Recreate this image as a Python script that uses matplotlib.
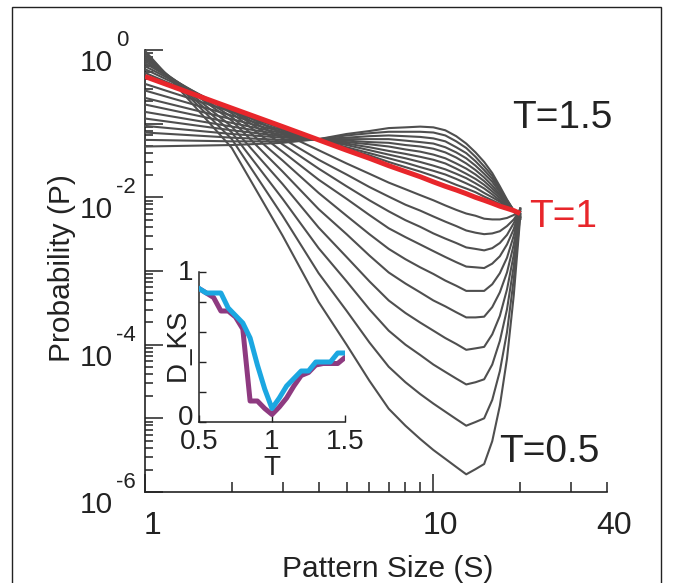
import numpy as np
import matplotlib
matplotlib.use('Agg')
import matplotlib.pyplot as plt
from matplotlib.ticker import FixedLocator, FixedFormatter, NullFormatter
from matplotlib.transforms import ScaledTranslation, blended_transform_factory
from matplotlib.patches import Rectangle

plt.rcParams['font.family'] = ['Liberation Sans', 'DejaVu Sans']

# ---------------- data ----------------
pattern_size = list(range(1, 21))
temperatures = [0.5, 0.55, 0.6, 0.65, 0.7, 0.75, 0.8, 0.85, 0.9, 0.95, 1.0,
                1.05, 1.1, 1.15, 1.2, 1.25, 1.3, 1.35, 1.4, 1.45, 1.5]

# log10 P(S) for each temperature
logp_050 = [-0.01, -1.33, -2.52, -3.42, -4.00, -4.49, -4.87, -5.10, -5.28, -5.43, -5.55, -5.66, -5.76, -5.69, -5.62, -5.31, -4.83, -4.19, -3.33, -2.27]
logp_055 = [-0.04, -1.21, -2.25, -3.03, -3.54, -3.97, -4.30, -4.51, -4.67, -4.80, -4.91, -5.01, -5.10, -5.05, -5.00, -4.75, -4.36, -3.83, -3.11, -2.23]
logp_060 = [-0.07, -1.12, -2.02, -2.69, -3.14, -3.52, -3.81, -4.00, -4.14, -4.27, -4.37, -4.46, -4.54, -4.51, -4.47, -4.27, -3.95, -3.52, -2.93, -2.20]
logp_065 = [-0.10, -1.04, -1.82, -2.41, -2.81, -3.14, -3.40, -3.57, -3.70, -3.81, -3.91, -3.99, -4.07, -4.05, -4.03, -3.86, -3.61, -3.25, -2.78, -2.18]
logp_070 = [-0.12, -0.96, -1.65, -2.16, -2.50, -2.79, -3.02, -3.17, -3.29, -3.40, -3.48, -3.56, -3.63, -3.63, -3.62, -3.49, -3.29, -3.02, -2.64, -2.16]
logp_075 = [-0.15, -0.91, -1.50, -1.94, -2.25, -2.50, -2.70, -2.84, -2.95, -3.04, -3.13, -3.20, -3.27, -3.27, -3.27, -3.18, -3.03, -2.82, -2.52, -2.15]
logp_080 = [-0.18, -0.86, -1.38, -1.76, -2.02, -2.24, -2.42, -2.54, -2.64, -2.73, -2.81, -2.88, -2.94, -2.95, -2.96, -2.90, -2.80, -2.64, -2.43, -2.15]
logp_085 = [-0.22, -0.83, -1.28, -1.61, -1.85, -2.04, -2.19, -2.31, -2.40, -2.49, -2.56, -2.62, -2.68, -2.70, -2.72, -2.69, -2.62, -2.51, -2.35, -2.16]
logp_090 = [-0.26, -0.82, -1.20, -1.49, -1.69, -1.86, -1.99, -2.10, -2.18, -2.26, -2.33, -2.39, -2.45, -2.48, -2.50, -2.49, -2.46, -2.39, -2.30, -2.17]
logp_095 = [-0.31, -0.81, -1.13, -1.36, -1.54, -1.68, -1.80, -1.89, -1.97, -2.04, -2.11, -2.17, -2.22, -2.25, -2.29, -2.30, -2.30, -2.28, -2.24, -2.19]
logp_100 = [-0.36, -0.79, -1.04, -1.22, -1.36, -1.47, -1.57, -1.65, -1.72, -1.79, -1.85, -1.90, -1.95, -2.00, -2.04, -2.08, -2.12, -2.15, -2.18, -2.22]
logp_105 = [-0.46, -0.84, -1.07, -1.22, -1.34, -1.43, -1.52, -1.59, -1.65, -1.71, -1.77, -1.83, -1.88, -1.93, -1.99, -2.04, -2.09, -2.14, -2.18, -2.22]
logp_110 = [-0.55, -0.89, -1.09, -1.22, -1.32, -1.40, -1.47, -1.53, -1.59, -1.64, -1.69, -1.75, -1.81, -1.87, -1.94, -2.00, -2.06, -2.13, -2.18, -2.23]
logp_115 = [-0.65, -0.94, -1.11, -1.22, -1.29, -1.36, -1.42, -1.47, -1.52, -1.57, -1.62, -1.68, -1.74, -1.81, -1.88, -1.96, -2.04, -2.11, -2.18, -2.24]
logp_120 = [-0.74, -0.99, -1.13, -1.22, -1.27, -1.32, -1.37, -1.41, -1.45, -1.49, -1.54, -1.61, -1.68, -1.75, -1.83, -1.92, -2.01, -2.10, -2.18, -2.25]
logp_125 = [-0.84, -1.04, -1.15, -1.22, -1.25, -1.28, -1.31, -1.35, -1.38, -1.42, -1.47, -1.54, -1.61, -1.69, -1.78, -1.88, -1.98, -2.09, -2.18, -2.26]
logp_130 = [-0.93, -1.09, -1.17, -1.22, -1.23, -1.25, -1.26, -1.29, -1.31, -1.34, -1.39, -1.46, -1.54, -1.63, -1.73, -1.84, -1.96, -2.08, -2.18, -2.27]
logp_135 = [-1.03, -1.14, -1.19, -1.21, -1.21, -1.21, -1.21, -1.23, -1.25, -1.27, -1.32, -1.39, -1.47, -1.57, -1.68, -1.79, -1.93, -2.06, -2.18, -2.27]
logp_140 = [-1.12, -1.19, -1.22, -1.21, -1.19, -1.17, -1.16, -1.17, -1.18, -1.20, -1.24, -1.32, -1.40, -1.51, -1.63, -1.75, -1.90, -2.05, -2.18, -2.28]
logp_145 = [-1.22, -1.24, -1.24, -1.21, -1.16, -1.13, -1.11, -1.11, -1.11, -1.12, -1.16, -1.24, -1.33, -1.45, -1.58, -1.71, -1.88, -2.04, -2.18, -2.29]
logp_150 = [-1.31, -1.29, -1.26, -1.21, -1.14, -1.10, -1.06, -1.05, -1.04, -1.05, -1.09, -1.17, -1.27, -1.39, -1.52, -1.67, -1.85, -2.03, -2.18, -2.30]

all_curves = [logp_050, logp_055, logp_060, logp_065, logp_070, logp_075, logp_080,
              logp_085, logp_090, logp_095, logp_100, logp_105, logp_110, logp_115,
              logp_120, logp_125, logp_130, logp_135, logp_140, logp_145, logp_150]

# inset: KS distance vs temperature
inset_T = [0.5, 0.55, 0.6, 0.65, 0.7, 0.75, 0.8, 0.85, 0.9, 0.95, 1.0,
           1.05, 1.1, 1.15, 1.2, 1.25, 1.3, 1.35, 1.4, 1.45, 1.5]
dks_purple = [0.89, 0.86, 0.83, 0.74, 0.74, 0.70, 0.62, 0.14, 0.14, 0.09, 0.05,
              0.10, 0.16, 0.24, 0.31, 0.33, 0.38, 0.39, 0.39, 0.39, 0.43]
dks_cyan = [0.89, 0.86, 0.86, 0.86, 0.76, 0.71, 0.66, 0.56, 0.38, 0.22, 0.09,
            0.16, 0.24, 0.29, 0.34, 0.34, 0.40, 0.40, 0.40, 0.46, 0.46]

x_major_ticks = [1, 10]
x_major_labels = ['1', '10']
x_minor_ticks = [2, 3, 4, 5, 6, 7, 8, 9, 20, 30, 40]
x_minor_labels = ['', '', '', '', '', '', '', '', '', '', '40']
y_major_ticks = [1e-6, 1e-5, 1e-4, 1e-3, 1e-2, 1e-1, 1e0]
y_label_values = [1e0, 1e-2, 1e-4, 1e-6]
y_label_exponents = ['0', '-2', '-4', '-6']

# ---------------- figure ----------------
W, H = 673, 583
fig = plt.figure(figsize=(W / 100, H / 100), dpi=100)
fig.patch.set_facecolor('white')
ink = '#222222'

# thin frame around the figure
fig.patches.append(Rectangle((12 / W, -0.02), (661 - 12) / W, (583 - 7) / H + 0.02,
                             transform=fig.transFigure, fill=False, lw=1.0,
                             ec=ink, zorder=10))

ax = fig.add_axes([145 / W, 1 - 492 / H, (607 - 145) / W, (492 - 50) / H])
gray = '#4f4f4f'
red = '#e8262b'
for T, lp in zip(temperatures, all_curves):
    P = 10 ** np.array(lp)
    if abs(T - 1.0) < 1e-9:
        ax.plot(pattern_size, P, color=red, lw=3.6, zorder=4, solid_capstyle='butt')
    else:
        ax.plot(pattern_size, P, color=gray, lw=1.5, zorder=3)

ax.set_xscale('log')
ax.set_yscale('log')
ax.set_xlim(1, 40)
ax.set_ylim(1e-6, 1)
for s in ['top', 'right']:
    ax.spines[s].set_visible(False)
for s in ['left', 'bottom']:
    ax.spines[s].set_linewidth(1.2)
    ax.spines[s].set_color(ink)

ax.xaxis.set_major_locator(FixedLocator(x_major_ticks))
ax.xaxis.set_major_formatter(FixedFormatter(x_major_labels))
ax.xaxis.set_minor_locator(FixedLocator(x_minor_ticks))
ax.xaxis.set_minor_formatter(FixedFormatter(x_minor_labels))
ax.yaxis.set_major_locator(FixedLocator(y_major_ticks))
ax.yaxis.set_major_formatter(NullFormatter())
ax.yaxis.set_minor_locator(FixedLocator(
    [m * 10.0 ** e for e in range(-6, 0) for m in range(2, 10)]))
ax.yaxis.set_minor_formatter(NullFormatter())

ax.tick_params(axis='both', which='both', direction='in', color=ink, width=1.1)
ax.tick_params(axis='x', which='major', length=13, pad=14, labelsize=23, labelcolor=ink)
ax.tick_params(axis='x', which='minor', length=7, pad=14, labelsize=23, labelcolor=ink)
ax.tick_params(axis='y', which='major', length=13)
ax.tick_params(axis='y', which='minor', length=6)

off = ScaledTranslation(7 / 100, 0, fig.dpi_scale_trans)
for lab in ax.get_xticklabels(which='both'):
    lab.set_transform(lab.get_transform() + off)

# y tick labels: "10" with raised exponent
ytr = blended_transform_factory(fig.transFigure, ax.transData)
for v, e in zip(y_label_values, y_label_exponents):
    ax.text(113 / W, v, '10', fontsize=21.5, ha='right', va='baseline', color=ink,
            clip_on=False,
            transform=ytr + ScaledTranslation(0, -21 / 100, fig.dpi_scale_trans))
    ax.text(116 / W, v, e, fontsize=16, ha='left', va='baseline', color=ink,
            clip_on=False,
            transform=ytr + ScaledTranslation(0, 4 / 100, fig.dpi_scale_trans))

fig.text(388 / W, 1 - 577 / H, 'Pattern Size (S)', fontsize=21.5, ha='center',
         va='baseline', color=ink)
fig.text(70 / W, 1 - 268 / H, 'Probability (P)', fontsize=21.5, ha='center',
         va='baseline', rotation=90, rotation_mode='anchor', color=ink)

fig.text(512 / W, 1 - 128 / H, 'T=1.5', fontsize=28, ha='left', va='baseline', color=ink)
fig.text(529 / W, 1 - 227 / H, 'T=1', fontsize=28, ha='left', va='baseline', color=red)
fig.text(499 / W, 1 - 462 / H, 'T=0.5', fontsize=28, ha='left', va='baseline', color=ink)

# ---------------- inset ----------------
axi = fig.add_axes([199 / W, 1 - 422 / H, (345 - 199) / W, (422 - 272) / H])
axi.set_facecolor('none')
axi.plot(inset_T, dks_purple, color='#8e3a80', lw=3.6, zorder=3)
axi.plot(inset_T, dks_cyan, color='#1ba7e1', lw=3.6, zorder=4)
axi.set_xlim(0.5, 1.5)
axi.set_ylim(0, 1)
for s in ['top', 'right']:
    axi.spines[s].set_visible(False)
for s in ['left', 'bottom']:
    axi.spines[s].set_linewidth(1.1)
    axi.spines[s].set_color(ink)
axi.set_xticks([0.5, 1.0, 1.5], ['0.5', '1', '1.5'])
axi.set_yticks([0, 0.2, 0.4, 0.6, 0.8, 1.0], ['0', '', '', '', '', '1'])
axi.tick_params(axis='both', direction='in', length=5, width=1.0, color=ink,
                labelsize=20, labelcolor=ink)
axi.tick_params(axis='x', pad=5)
axi.tick_params(axis='y', pad=4)
ylabs = axi.get_yticklabels()
ylabs[0].set_transform(ylabs[0].get_transform() +
                       ScaledTranslation(0, 7 / 100, fig.dpi_scale_trans))
ylabs[-1].set_transform(ylabs[-1].get_transform() +
                        ScaledTranslation(0, 2 / 100, fig.dpi_scale_trans))
axi.set_xlabel('T', fontsize=20, labelpad=0, color=ink)
axi.set_ylabel('D_KS', fontsize=20, color=ink)
axi.yaxis.set_label_coords(-0.058, 0.513)
axi.yaxis.label.set_va('bottom')

fig.savefig('out.png', dpi=100)
